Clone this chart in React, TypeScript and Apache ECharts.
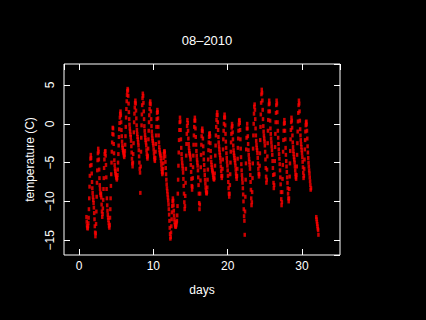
import React, { useEffect, useRef } from "react";
import * as echarts from "echarts";

const chartTitle = "08–2010";
const xName = "days";
const yName = "temperature (C)";
const xTicks = [0, 10, 20, 30];
const yTicks = [-15, -10, -5, 0, 5];

// hourly readings, first one at day 1.0 (Aug 1, 00:00)
const startDay = 1;
const hoursPerDay = 24;

const days1to7 = [
  -12.0, -12.6, -13.1, -13.4, -13.5, -13.2, -12.8, -12.1, -11.0, -9.6, -8.1, -6.7, -5.4, -4.5, -4.0, -4.4, -5.3, -6.4, -7.5, -8.3, -8.9, -9.4, -9.8, -10.2,
  -10.8, -11.5, -12.3, -13.2, -14.0, -14.5, -14.1, -12.9, -11.3, -9.4, -7.6, -6.0, -4.7, -3.8, -3.2, -3.6, -4.6, -5.9, -7.0, -7.9, -8.4, -8.9, -9.2, -9.0,
  -9.5, -10.4, -11.3, -12.0, -11.6, -10.9, -9.8, -8.4, -7.0, -5.7, -4.6, -3.9, -3.6, -3.5, -4.1, -5.3, -6.9, -8.4, -9.6, -10.5, -11.2, -11.7, -12.1, -12.4,
  -12.8, -13.2, -13.4, -13.0, -12.1, -11.0, -9.6, -8.0, -6.5, -5.0, -3.6, -2.4, -1.3, -0.5, -0.6, -1.4, -2.6, -3.8, -4.7, -5.3, -5.8, -6.1, -6.4, -6.6,
  -6.8, -7.0, -7.2, -7.0, -6.6, -5.9, -5.0, -3.9, -2.8, -1.7, -0.7, 0.1, 0.8, 1.3, 1.6, 1.1, 0.2, -0.8, -1.6, -2.3, -2.8, -3.1, -3.4, -3.6,
  -3.8, -4.1, -4.3, -4.0, -3.5, -2.7, -1.6, -0.4, 0.8, 1.9, 2.9, 3.7, 4.2, 4.5, 4.3, 3.6, 2.6, 1.5, 0.6, -0.1, -0.6, -1.0, -1.4, -1.7,
  -2.2, -2.9, -3.7, -4.5, -5.1, -5.5, -5.0, -3.9, -2.5, -1.1, 0.2, 1.3, 2.1, 2.7, 3.0, 2.6, 1.7, 0.7, -0.2, -0.8, -1.3, -1.7, -2.0, -2.4,
];

const days8to14 = [
  -2.8, -3.4, -4.2, -5.0, -5.8, -6.3, -8.9, -5.5, -3.6, -1.8, -0.2, 1.2, 2.4, 3.3, 3.9, 3.6, 2.7, 1.6, 0.6, -0.3, -0.9, -1.4, -1.8, -2.1,
  -2.4, -2.8, -3.4, -3.9, -4.3, -4.5, -4.1, -3.2, -2.0, -0.9, 0.2, 1.1, 1.9, 2.6, 2.9, 2.5, 1.6, 0.6, -0.3, -1.0, -1.5, -1.9, -2.2, -2.5,
  -2.8, -3.3, -3.8, -4.3, -4.6, -4.8, -4.4, -3.6, -2.6, -1.5, -0.4, 0.6, 1.4, 1.8, 1.5, 0.7, -0.4, -1.5, -2.4, -3.0, -3.4, -3.7, -3.9, -4.1,
  -4.4, -4.8, -5.3, -5.8, -6.2, -6.5, -6.3, -5.8, -5.1, -4.4, -3.9, -3.6, -3.5, -3.7, -4.2, -4.9, -5.7, -6.5, -7.2, -7.8, -8.3, -8.7, -9.1, -9.5,
  -9.9, -10.4, -11.0, -11.7, -12.5, -13.4, -14.2, -14.8, -14.6, -14.0, -13.2, -12.3, -11.4, -10.6, -10.0, -9.6, -9.9, -10.5, -11.2, -11.8, -12.3, -12.7, -13.0, -13.2,
  -13.3, -13.2, -13.0, -12.7, -12.5, -11.8, -10.6, -9.0, -7.2, -5.4, -3.7, -2.1, -0.8, 0.2, 0.8, 0.3, -0.8, -2.0, -3.1, -3.9, -4.5, -5.0, -5.4, -5.8,
  -6.3, -7.1, -8.0, -9.0, -10.1, -11.0, -10.6, -9.3, -7.6, -5.8, -4.1, -2.6, -1.3, -0.3, 0.5, 0.1, -0.9, -1.9, -2.6, -3.1, -3.5, -3.8, -4.0, -4.2,
];

const days15to21 = [
  -4.6, -5.3, -6.2, -7.1, -8.0, -8.5, -8.1, -7.0, -5.6, -4.1, -2.7, -1.5, -0.4, 0.4, 0.8, 0.4, -0.6, -1.7, -2.7, -3.5, -4.1, -4.6, -5.0, -5.4,
  -6.0, -6.9, -7.9, -9.0, -10.2, -11.0, -10.4, -9.0, -7.3, -5.6, -4.0, -2.7, -1.6, -0.9, -0.6, -1.0, -1.9, -2.9, -3.8, -4.6, -5.3, -6.0, -6.6, -7.2,
  -7.7, -8.2, -8.6, -8.9, -9.0, -8.8, -8.2, -7.2, -5.9, -4.6, -3.4, -2.4, -1.7, -1.3, -1.2, -1.6, -2.5, -3.5, -4.3, -4.9, -5.3, -5.6, -5.9, -6.1,
  -6.3, -6.6, -6.9, -7.1, -7.2, -7.0, -6.4, -5.4, -4.1, -2.8, -1.5, -0.4, 0.5, 1.1, 1.5, 1.1, 0.2, -0.8, -1.7, -2.4, -2.9, -3.3, -3.7, -4.0,
  -4.4, -4.9, -5.5, -6.1, -6.7, -7.0, -6.7, -5.8, -4.6, -3.3, -2.0, -0.9, 0.0, 0.8, 1.2, 0.8, -0.2, -1.3, -2.3, -3.1, -3.8, -4.4, -4.9, -5.4,
  -6.0, -6.7, -7.5, -8.3, -9.0, -9.4, -9.0, -7.9, -6.5, -5.0, -3.6, -2.4, -1.3, -0.5, 0.0, -0.3, -1.1, -2.0, -2.8, -3.4, -3.8, -4.1, -4.4, -4.7,
  -5.0, -5.4, -5.9, -6.4, -6.8, -7.1, -6.7, -5.8, -4.5, -3.1, -1.9, -0.9, -0.1, 0.4, 0.5, 0.1, -0.8, -2.0, -3.2, -4.3, -5.2, -6.0, -6.6, -7.1,
];

const days22to28 = [
  -7.6, -8.3, -9.1, -10.0, -11.0, -11.9, -12.5, -14.3, -11.3, -9.4, -7.2, -5.1, -3.3, -1.8, -0.6, 0.0, -0.6, -1.6, -2.6, -3.4, -4.0, -4.5, -4.9, -5.3,
  -5.8, -6.6, -7.5, -8.5, -9.6, -10.5, -10.1, -8.8, -7.0, -5.1, -3.2, -1.5, 0.0, 1.3, 2.2, 2.5, 1.8, 0.6, -0.6, -1.5, -2.2, -2.7, -3.1, -3.4,
  -3.8, -4.4, -5.1, -5.8, -6.4, -6.8, -6.5, -5.4, -3.8, -2.1, -0.4, 1.2, 2.7, 3.8, 4.4, 4.0, 3.0, 1.8, 0.6, -0.3, -1.0, -1.5, -1.9, -2.3,
  -2.8, -3.6, -4.6, -5.7, -6.8, -7.6, -7.2, -5.9, -4.2, -2.5, -0.9, 0.5, 1.6, 2.5, 3.0, 2.6, 1.6, 0.4, -0.6, -1.3, -1.9, -2.4, -2.9, -3.4,
  -4.0, -4.8, -5.7, -6.6, -7.6, -8.3, -7.9, -6.5, -4.8, -3.0, -1.3, 0.2, 1.4, 2.4, 3.0, 2.6, 1.5, 0.2, -0.9, -1.8, -2.6, -3.3, -3.9, -4.5,
  -5.2, -6.0, -6.9, -7.8, -8.8, -9.7, -10.5, -10.1, -8.8, -7.1, -5.3, -3.6, -2.1, -0.9, 0.0, 0.5, 0.1, -0.9, -2.0, -3.1, -4.0, -4.8, -5.5, -6.2,
  -6.9, -7.6, -8.3, -9.0, -9.6, -10.0, -9.6, -8.4, -6.8, -5.1, -3.5, -2.0, -0.8, 0.2, 0.8, 0.4, -0.5, -1.5, -2.4, -3.0, -3.5, -3.9, -4.3, -4.6,
];

const days29to31 = [
  -5.0, -5.5, -6.0, -6.5, -6.9, -7.1, -6.6, -5.5, -4.0, -2.5, -1.0, 0.3, 1.4, 2.4, 3.0, 2.6, 1.6, 0.4, -0.7, -1.5, -2.1, -2.6, -3.0, -3.4,
  -3.8, -4.3, -4.9, -5.6, -6.3, -7.0, -6.7, -5.8, -4.6, -3.3, -2.1, -1.0, -0.2, 0.2, 0.3, -0.1, -0.9, -1.9, -2.9, -3.7, -4.4, -5.0, -5.5, -6.0,
  -6.4, -6.9, -7.4, -7.9, -8.5, -8.3,
];

// readings after the data gap, starting late on day 31
const tailStartDay = 31.917;
const tailTemps = [-12.0, -12.3, -12.6, -12.9, -13.2, -13.5, -13.7, -14.3];

const FONT = "'Liberation Sans', Arial, sans-serif";

export default function App() {
  const ref = useRef<HTMLDivElement>(null);

  useEffect(() => {
    if (!ref.current) return;
    const chart = echarts.init(ref.current, null, { renderer: "svg" });

    const mainTemps = [...days1to7, ...days8to14, ...days15to21, ...days22to28, ...days29to31];
    const pts: number[][] = mainTemps.map((t, i) => [startDay + i / hoursPerDay, t]);
    tailTemps.forEach((t, i) => pts.push([tailStartDay + i / hoursPerDay, t]));

    const fmtY = (v: number) => (v < 0 ? "\u2212" + Math.abs(v) : String(v));
    const showX = (v: number) => xTicks.includes(v);
    const showY = (v: number) => yTicks.includes(v);

    const tick = { show: true, inside: true, length: 6, lineStyle: { color: "#fff", width: 1 } };
    const noLine = { show: false, onZero: false };
    const xBase = { type: "value" as const, min: -2.02, max: 35.11, splitLine: { show: false }, axisLine: noLine };
    const yBase = { type: "value" as const, min: -16.9, max: 7.7, splitLine: { show: false }, axisLine: noLine };

    chart.setOption({
      animation: false,
      backgroundColor: "#000",
      title: {
        text: chartTitle,
        left: 202,
        top: 29,
        textAlign: "center",
        textStyle: { color: "#fff", fontSize: 13, fontWeight: "normal", fontFamily: FONT },
      },
      grid: { left: 64, right: 86, top: 64, bottom: 65, show: true, borderColor: "#fff", borderWidth: 1, backgroundColor: "transparent" },
      xAxis: [
        {
          ...xBase,
          position: "bottom",
          axisTick: tick,
          axisLabel: {
            color: "#fff", fontSize: 12, fontFamily: FONT, margin: 5,
            showMinLabel: false, showMaxLabel: false,
            formatter: (v: number) => (showX(v) ? String(v) : ""),
          },
          name: xName,
          nameLocation: "middle",
          nameGap: 29,
          nameTextStyle: { color: "#fff", fontSize: 12, fontFamily: FONT },
        },
        { ...xBase, position: "top", axisTick: tick, axisLabel: { show: false } },
      ],
      yAxis: [
        {
          ...yBase,
          position: "left",
          axisTick: tick,
          axisLabel: {
            color: "#fff", fontSize: 12, fontFamily: FONT, margin: 8, rotate: 90,
            showMinLabel: false, showMaxLabel: false,
            formatter: (v: number) => (showY(v) ? fmtY(v) : ""),
          },
          name: yName,
          nameLocation: "middle",
          nameGap: 18,
          nameTextStyle: { color: "#fff", fontSize: 12, fontFamily: FONT },
        },
        { ...yBase, position: "right", axisTick: tick, axisLabel: { show: false } },
      ],
      series: [
        {
          type: "scatter",
          data: pts,
          symbol: "rect",
          symbolSize: [2.5, 4],
          itemStyle: { color: "#ff0000" },
          silent: true,
        },
      ],
    });

    return () => chart.dispose();
  }, []);

  return <div ref={ref} style={{ position: "fixed", left: 0, top: 0, width: 426, height: 320, background: "#000" }} />;
}
